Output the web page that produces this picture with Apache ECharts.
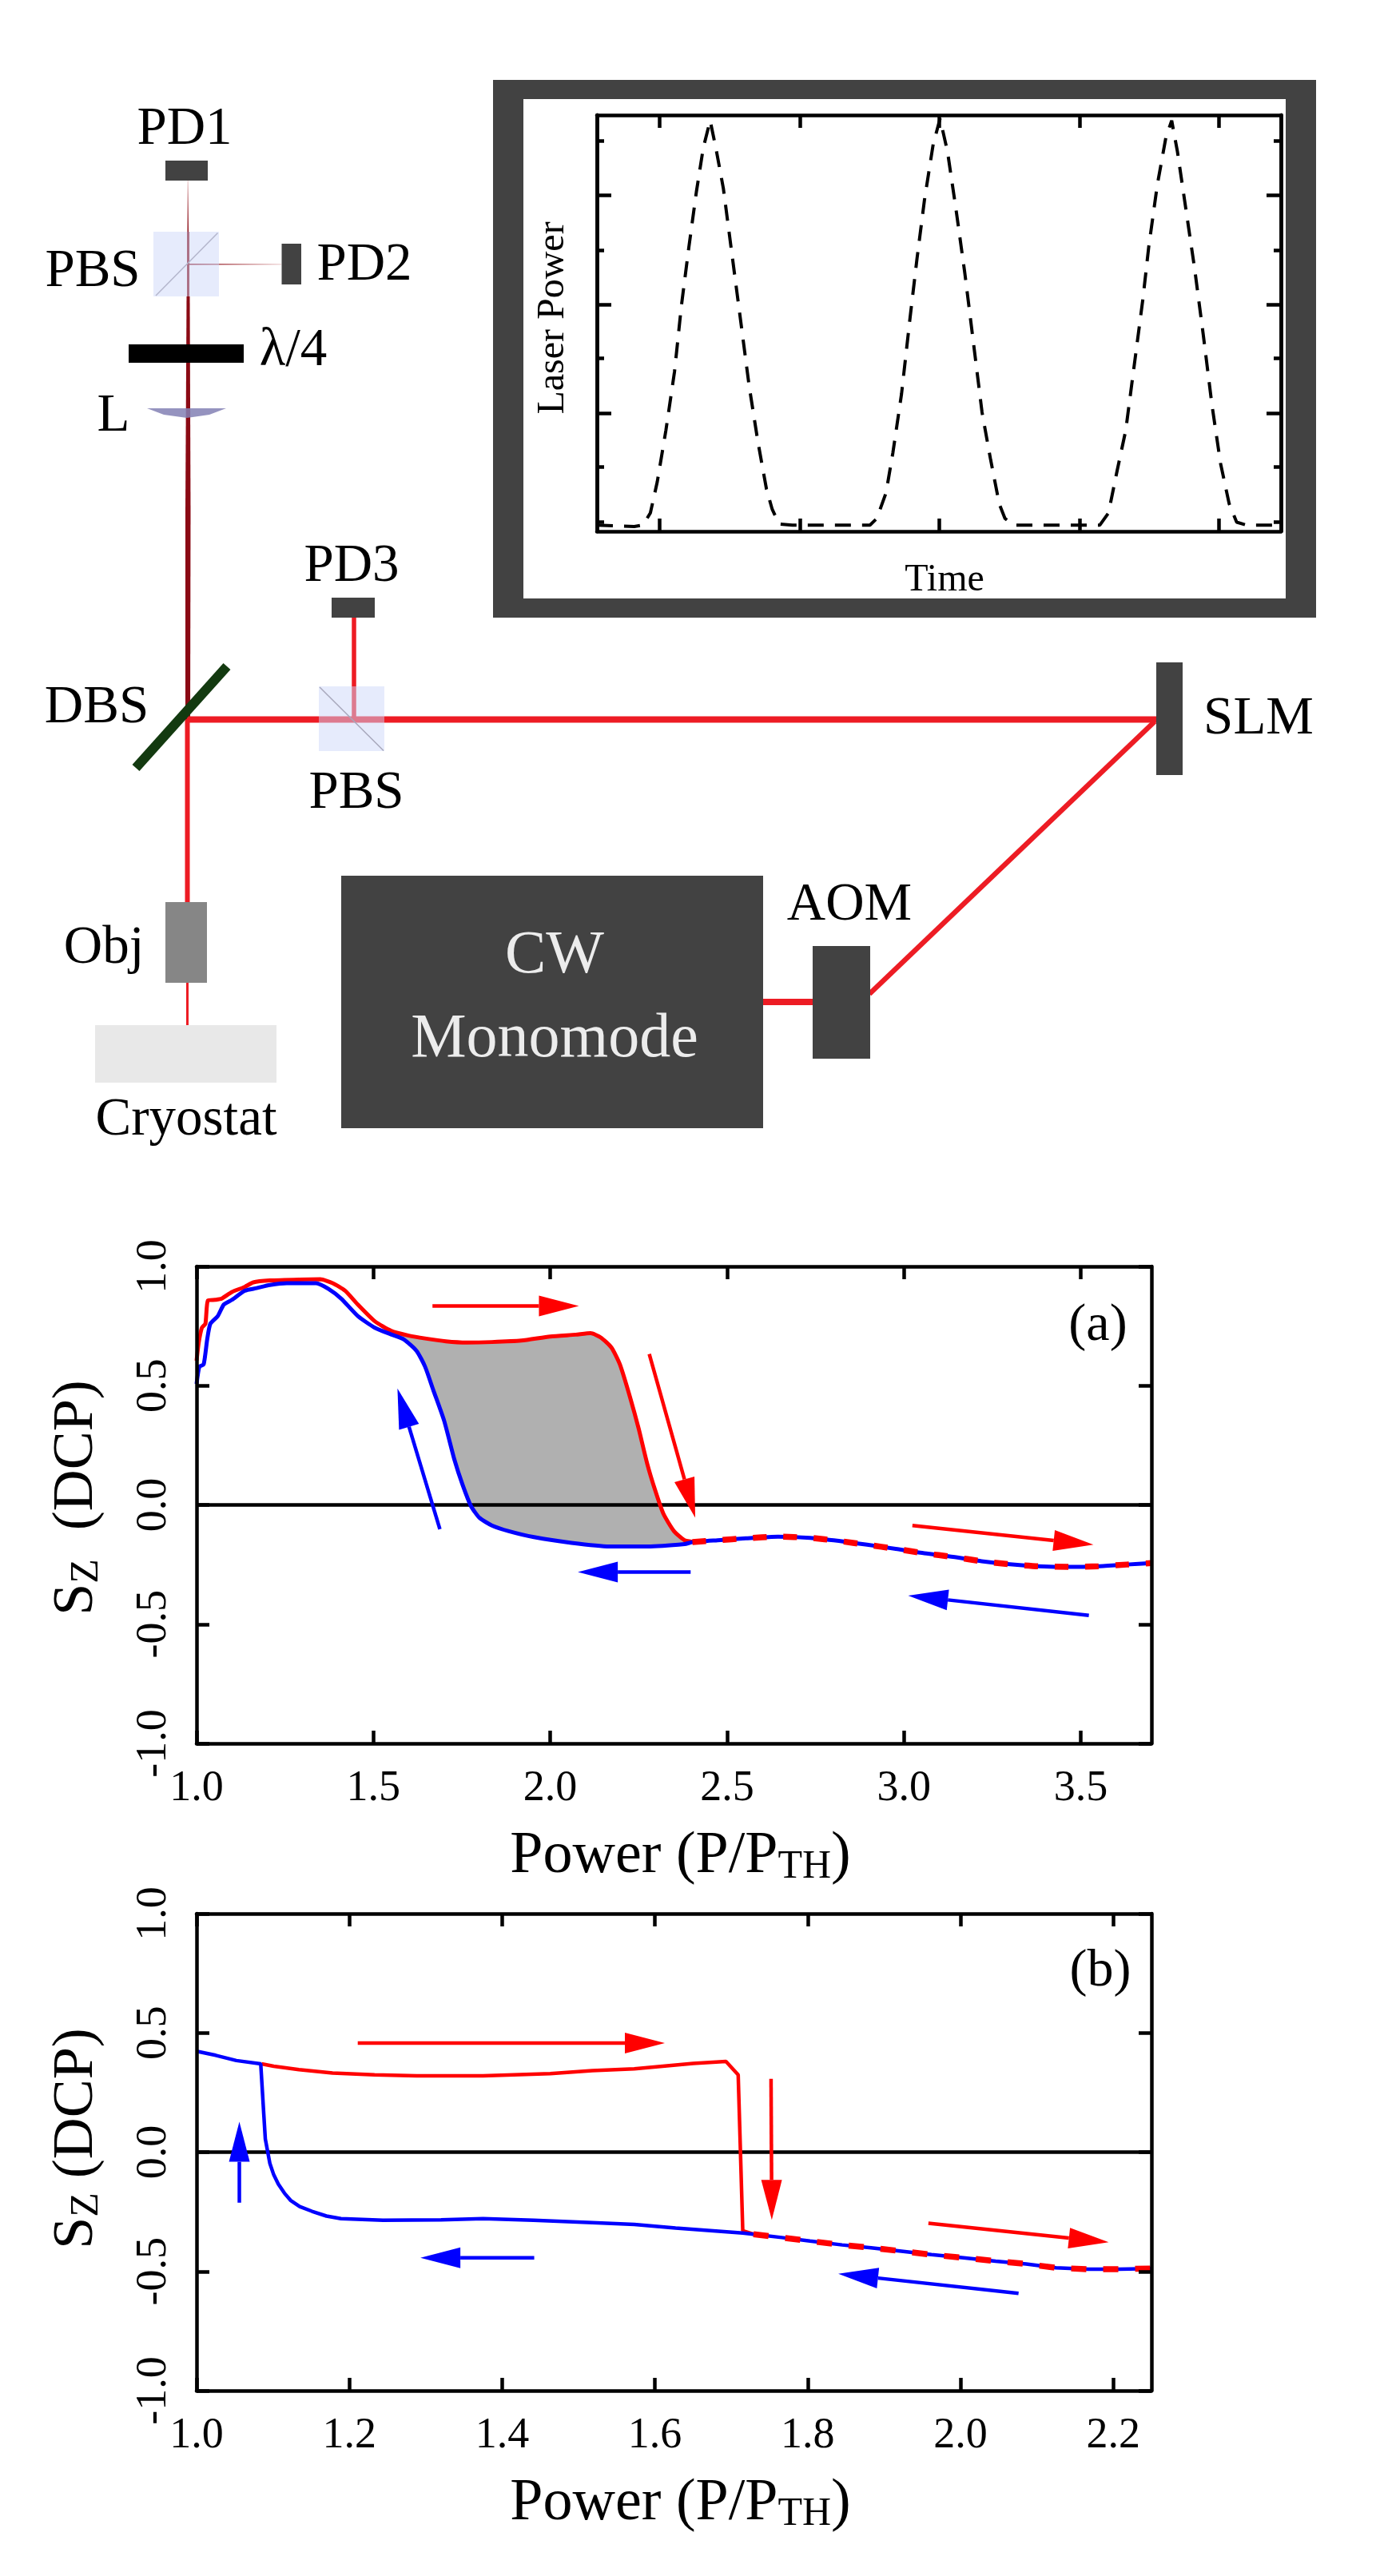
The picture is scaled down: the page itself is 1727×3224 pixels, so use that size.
<!DOCTYPE html>
<html>
<head>
<meta charset="utf-8">
<title>Hysteresis of Sz vs power</title>
<script src="https://cdn.jsdelivr.net/npm/echarts@6/dist/echarts.min.js"></script>
<style>
  html, body { margin: 0; padding: 0; background: #fff; }
  #main { width: 1727px; height: 3224px; }
</style>
</head>
<body>
<div id="main"></div>
<script>
// panel (a), [P/Pth, Sz]
var redUpA = [[1.0,.605],[1.006,.68],[1.015,.743],[1.025,.76],[1.032,.857],[1.053,.86],[1.071,.865],[1.10,.893],[1.136,.914],[1.16,.933],[1.207,.941],[1.29,.945],[1.35,.946],[1.385,.93],[1.42,.898],[1.456,.84],[1.504,.77],[1.55,.73],[1.60,.71],[1.646,.698],[1.705,.686],[1.764,.681],[1.835,.683],[1.918,.689],[2.0,.706],[2.072,.714],[2.114,.72],[2.143,.702],[2.173,.66],[2.197,.589],[2.226,.45],[2.25,.32],[2.274,.174],[2.297,.06],[2.32,-.037],[2.35,-.11],[2.38,-.148],[2.416,-.156]];
var blueDownA = [[1.0,.507],[1.008,.58],[1.02,.589],[1.03,.694],[1.039,.76],[1.06,.792],[1.077,.84],[1.10,.86],[1.136,.898],[1.17,.909],[1.207,.922],[1.255,.93],[1.338,.93],[1.373,.906],[1.409,.865],[1.456,.792],[1.504,.743],[1.55,.715],[1.586,.694],[1.622,.646],[1.646,.58],[1.669,.483],[1.70,.353],[1.729,.19],[1.752,.085],[1.776,-.005],[1.80,-.054],[1.835,-.086],[1.883,-.11],[1.954,-.135],[2.06,-.159],[2.167,-.174],[2.274,-.174],[2.38,-.164],[2.402,-.156]];
var commonA = [[2.402,-.156],[2.473,-.148],[2.553,-.14],[2.644,-.133],[2.735,-.138],[2.816,-.151],[2.896,-.167],[2.977,-.184],[3.058,-.203],[3.139,-.218],[3.22,-.236],[3.30,-.249],[3.38,-.257],[3.47,-.26],[3.55,-.257],[3.63,-.25],[3.70,-.244]];
// arrows [x0, y0, x1, y1]
var redArrowsA = [[1.667,.834,2.081,.834],[2.28,.633,2.41,-.054],[3.024,-.086,3.536,-.167]];
var blueArrowsA = [[1.688,-.102,1.568,.488],[2.397,-.281,2.078,-.281],[3.523,-.463,3.012,-.38]];

// panel (b)
var redUpB = [[1.085,.37],[1.101,.36],[1.134,.346],[1.178,.332],[1.233,.324],[1.288,.32],[1.375,.32],[1.463,.329],[1.518,.342],[1.573,.349],[1.65,.372],[1.693,.38],[1.709,.324],[1.715,-.33],[1.729,-.344]];
var blueDownB = [[1.0,.423],[1.025,.406],[1.052,.384],[1.084,.37],[1.088,.158],[1.09,.055],[1.096,-.048],[1.101,-.095],[1.107,-.134],[1.115,-.172],[1.123,-.202],[1.135,-.228],[1.151,-.248],[1.17,-.268],[1.189,-.279],[1.244,-.286],[1.32,-.284],[1.375,-.279],[1.441,-.286],[1.518,-.296],[1.573,-.303],[1.627,-.318],[1.715,-.339]];
var commonB = [[1.729,-.344],[1.766,-.358],[1.803,-.373],[1.845,-.389],[1.883,-.401],[1.925,-.416],[1.962,-.43],[2.004,-.443],[2.046,-.457],[2.086,-.469],[2.125,-.485],[2.167,-.491],[2.207,-.491],[2.25,-.488]];
var redArrowsB = [[1.211,.457,1.613,.457],[1.752,.307,1.753,-.284],[1.958,-.298,2.194,-.378]];
var blueArrowsB = [[1.056,-.212,1.056,.127],[1.442,-.443,1.293,-.443],[2.076,-.592,1.84,-.51]];

// inset, laser power vs time in arbitrary units
var laserPower = [[0,17],[65,13],[80,17],[93,50],[105,135],[120,275],[135,435],[147,615],[160,775],[173,925],[185,1045],[197,1120],[207,1045],[220,935],[235,755],[250,575],[265,395],[280,245],[295,115],[305,60],[317,20],[340,17],[475,17],[487,35],[503,105],[515,215],[530,375],[545,585],[557,745],[570,905],[585,1055],[597,1125],[610,1035],[625,875],[640,705],[655,515],[670,325],[685,195],[700,75],[710,35],[725,17],[875,17],[890,50],[905,165],[920,275],[935,455],[950,635],[960,775],[975,945],[990,1075],[1000,1120],[1010,1035],[1025,875],[1040,715],[1055,535],[1070,345],[1085,185],[1100,75],[1113,25],[1130,17],[1190,17]];
var insetXTicks = [109, 353, 596, 840, 1082];
var insetYMajor = [322, 619, 917];
var insetYMinor = [25, 175, 472, 767, 1065];

var yTicks = ['-1.0', '-0.5', '0.0', '0.5', '1.0'];
var xTicksA = ['1.0', '1.5', '2.0', '2.5', '3.0', '3.5'];
var xTicksB = ['1.0', '1.2', '1.4', '1.6', '1.8', '2.0', '2.2'];

var serif = '"Liberation Serif", "Times New Roman", serif';
var dark = '#424242';
var beamRed = '#ed1c24';
var plotRed = '#ff0000';
var plotBlue = '#0000ff';

function tickFormatter(list) {
  return function (v) {
    var s = v.toFixed(1);
    return list.indexOf(s) >= 0 ? s : '';
  };
}

function ticksAt(list, len) {
  return { show: true, inside: true, length: len || 16, customValues: list.map(Number), lineStyle: { color: '#000', width: 4.5 } };
}

function frameAxis(opt) {
  var base = {
    type: 'value',
    z: 5,
    axisLine: { show: true, onZero: false, lineStyle: { color: '#000', width: 4.5 } },
    axisLabel: { show: false },
    splitLine: { show: false }
  };
  for (var k in opt) base[k] = opt[k];
  return base;
}

function subName(main, sub, tail) {
  return '{m|' + main + '}{s|' + sub + '}{m|' + tail + '}';
}

function nameStyle(size, subSize, shift, pad) {
  return {
    fontFamily: serif, color: '#000', fontSize: size, padding: pad,
    rich: {
      m: { fontFamily: serif, color: '#000', fontSize: size },
      s: { fontFamily: serif, color: '#000', fontSize: subSize, padding: [shift, 0, 0, 0] }
    }
  };
}

function panelAxes(gridIndex, xMax, xInterval, xList, yNamePad, yLabel) {
  var xs = [
    frameAxis({
      gridIndex: gridIndex, position: 'bottom', min: 1, max: xMax, interval: xInterval,
      axisTick: ticksAt(xList),
      axisLabel: { show: true, margin: 30, fontFamily: serif, fontSize: 54, color: '#000', formatter: tickFormatter(xList) },
      name: subName('Power (P/P', 'TH', ')'), nameLocation: 'middle', nameGap: 104,
      nameTextStyle: nameStyle(74, 50, 26, [0, 0, 0, 16])
    }),
    frameAxis({ gridIndex: gridIndex, position: 'top', min: 1, max: xMax, interval: xInterval, axisTick: ticksAt(xList) })
  ];
  var ys = [
    frameAxis({
      gridIndex: gridIndex, position: 'left', min: -1, max: 1, interval: 0.5,
      axisTick: ticksAt(yTicks),
      axisLabel: { show: true, rotate: 90, margin: 26, fontFamily: serif, fontSize: 54, color: '#000', formatter: tickFormatter(yTicks) },
      name: yLabel, nameLocation: 'middle', nameRotate: 90, nameGap: 112,
      nameTextStyle: nameStyle(72, 50, 26, yNamePad)
    }),
    frameAxis({ gridIndex: gridIndex, position: 'right', min: -1, max: 1, interval: 0.5, axisTick: ticksAt(yTicks) })
  ];
  return { xs: xs, ys: ys };
}

function insetY(pos, vals, len) {
  return frameAxis({ gridIndex: 2, position: pos, min: 0, max: 1135, axisTick: ticksAt(vals, len) });
}

function curve(x, y, data, color, width, smooth, dash) {
  return {
    type: 'line', xAxisIndex: x, yAxisIndex: y, data: data, symbol: 'none', smooth: smooth, z: 3,
    lineStyle: { color: color, width: width, type: dash || 'solid', cap: 'butt' }
  };
}

function arrows(x, y, list, color) {
  return {
    type: 'custom', xAxisIndex: x, yAxisIndex: y, data: list, z: 4, silent: true,
    encode: { x: [0, 2], y: [1, 3] },
    renderItem: function (params, api) {
      var a = api.coord([api.value(0), api.value(1)]);
      var b = api.coord([api.value(2), api.value(3)]);
      var len = Math.sqrt((b[0] - a[0]) * (b[0] - a[0]) + (b[1] - a[1]) * (b[1] - a[1]));
      var ux = (b[0] - a[0]) / len, uy = (b[1] - a[1]) / len;
      var bx = b[0] - ux * 50, by = b[1] - uy * 50;
      return {
        type: 'group',
        children: [
          { type: 'line', shape: { x1: a[0], y1: a[1], x2: bx, y2: by }, style: { stroke: color, lineWidth: 4.5 } },
          { type: 'polygon', shape: { points: [b, [bx - uy * 13, by + ux * 13], [bx + uy * 13, by - ux * 13]] }, style: { fill: color } }
        ]
      };
    }
  };
}

// grey loop between the two branches of panel (a)
var loopA = redUpA.filter(function (p) { return p[0] >= 1.55 && p[0] <= 2.38; })
  .concat(blueDownA.filter(function (p) { return p[0] >= 1.55 && p[0] <= 2.38; }).reverse());

var axesA = panelAxes(0, 3.7, 0.5, xTicksA, [0, 0, 0, 18], subName('S', 'Z', '  (DCP)'));
var axesB = panelAxes(1, 2.25, 0.2, xTicksB, [0, 0, 0, 34], subName('S', 'Z', ' (DCP)'));

var xAxes = axesA.xs.concat(axesB.xs, [
  frameAxis({ gridIndex: 2, position: 'bottom', min: 0, max: 1190, axisTick: ticksAt(insetXTicks) }),
  frameAxis({ gridIndex: 2, position: 'top', min: 0, max: 1190, axisTick: ticksAt(insetXTicks) })
]);
var yAxes = axesA.ys.concat(axesB.ys, [
  insetY('left', insetYMajor, 18), insetY('left', insetYMinor, 9),
  insetY('right', insetYMajor, 18), insetY('right', insetYMinor, 9)
]);

var series = [
  {
    type: 'custom', xAxisIndex: 0, yAxisIndex: 0, data: loopA, z: 1, silent: true,
    renderItem: function (params, api) {
      if (params.dataIndex) return;
      return { type: 'polygon', shape: { points: loopA.map(function (p) { return api.coord(p); }) }, style: { fill: '#b0b0b0' } };
    }
  },
  curve(0, 0, [[1, 0], [3.7, 0]], '#000', 4.5, false),
  curve(0, 0, redUpA, plotRed, 5, 0.2),
  curve(0, 0, blueDownA.concat(commonA), plotBlue, 5, 0.2),
  curve(0, 0, commonA, plotRed, 7.5, 0.2, [17, 21]),
  arrows(0, 0, redArrowsA, plotRed),
  arrows(0, 0, blueArrowsA, plotBlue),

  curve(2, 2, [[1, 0], [2.25, 0]], '#000', 4.5, false),
  curve(2, 2, redUpB, plotRed, 4.5, false),
  curve(2, 2, blueDownB.concat(commonB), plotBlue, 4.5, false),
  curve(2, 2, commonB, plotRed, 7.5, false, [19, 21]),
  arrows(2, 2, redArrowsB, plotRed),
  arrows(2, 2, blueArrowsB, plotBlue),

  curve(4, 4, laserPower, '#000', 4, false, [20, 14])
];

// ---- the optical setup and text that are not on an axis ----
function box(x0, y0, x1, y1, fill, z) {
  return { type: 'rect', z: z || 1, shape: { x: x0, y: y0, width: x1 - x0, height: y1 - y0 }, style: { fill: fill } };
}
function seg(x0, y0, x1, y1, color, w, z) {
  return { type: 'line', z: z || 2, shape: { x1: x0, y1: y0, x2: x1, y2: y1 }, style: { stroke: color, lineWidth: w } };
}
function label(txt, x, y, size, color, rot) {
  return {
    type: 'text', z: 10, x: x, y: y, rotation: rot || 0,
    style: { text: txt, fill: color || '#000', font: (size || 67) + 'px ' + serif, align: 'center', verticalAlign: 'middle' }
  };
}
var fadeV = new echarts.graphic.LinearGradient(0, 0, 0, 1, [{ offset: 0, color: '#f2dcdc' }, { offset: 1, color: '#8b0a14' }]);
var fadeH = new echarts.graphic.LinearGradient(0, 0, 1, 0, [{ offset: 0, color: '#8b0a14' }, { offset: 1, color: '#f2dcdc' }]);
var cube = 'rgba(205,215,250,0.5)';

var diagram = [
  // inset frame
  box(617, 100, 1647, 773, dark, 0),
  box(655, 124, 1609, 749, '#fff', 0),
  label('Laser Power', 692, 398, 48, '#000', Math.PI / 2),
  label('Time', 1182, 726, 48),
  // upper beam path
  box(234.5, 226, 236, 290, fadeV),
  box(234, 290, 237, 371, '#8b0a14'),
  box(236, 330, 352, 331.5, fadeH),
  { type: 'polygon', z: 2, shape: { points: [[233.5, 371], [237.5, 371], [238.5, 640], [238, 900], [232, 900], [232, 640]] }, style: { fill: '#8b0a14' } },
  box(192, 290, 274, 371, cube, 3),
  seg(195, 370, 272.5, 291.5, '#b4b6cc', 1.5, 3),
  box(207, 201, 260, 226, dark, 4),
  box(352.5, 305, 377, 356, dark, 4),
  box(161, 431, 305, 454, '#000', 4),
  { type: 'polygon', z: 4, smooth: 0.4, shape: { points: [[184, 511], [283, 511], [262, 519], [234, 523], [205, 519]] }, style: { fill: 'rgba(130,128,180,0.85)' } },
  // red path
  seg(234, 900.5, 1447, 900.5, beamRed, 8),
  seg(443, 773, 443, 900, beamRed, 5.5),
  seg(1445, 903, 1088, 1244, beamRed, 6.5),
  seg(955, 1254, 1017, 1254, beamRed, 8),
  seg(234.5, 900, 234.5, 1129, beamRed, 6),
  seg(234.5, 1230, 234.5, 1283, beamRed, 3),
  box(399, 859, 481, 940, cube, 3),
  seg(400, 860, 480, 939.5, '#a8a8bc', 1.5, 3),
  seg(284, 834, 170, 961, '#133a10', 12, 4),
  box(415, 748, 469, 773, dark, 4),
  box(1447, 829, 1480, 970, dark, 4),
  box(427, 1096, 955, 1412, dark, 4),
  box(1017, 1184, 1089, 1325, dark, 4),
  box(207, 1129, 259, 1230, '#868686', 4),
  box(119, 1283, 346, 1355, '#e8e8e8', 4),
  // labels
  label('PD1', 231, 162),
  label('PD2', 456, 332),
  label('PBS', 116, 340),
  label('\u03bb/4', 367, 439),
  label('L', 142, 521),
  label('PD3', 440, 709),
  label('DBS', 121, 886),
  label('PBS', 446, 993),
  label('SLM', 1575, 900),
  label('AOM', 1063, 1133),
  label('Obj', 130, 1187),
  label('Cryostat', 233, 1402),
  label('CW', 694, 1197, 77, '#ececec'),
  label('Monomode', 694, 1302, 78, '#ececec'),
  label('(a)', 1374, 1660, 66),
  label('(b)', 1377, 2468, 66)
];

var chart = echarts.init(document.getElementById('main'), null, { renderer: 'canvas' });
chart.setOption({
  animation: false,
  backgroundColor: '#fff',
  grid: [
    { left: 246, width: 1195, top: 1585, height: 597 },
    { left: 246, width: 1195, top: 2395, height: 597 },
    { left: 747, width: 856, top: 144, height: 521 }
  ],
  xAxis: xAxes,
  yAxis: yAxes,
  series: series,
  graphic: { elements: diagram }
});
</script>
</body>
</html>
